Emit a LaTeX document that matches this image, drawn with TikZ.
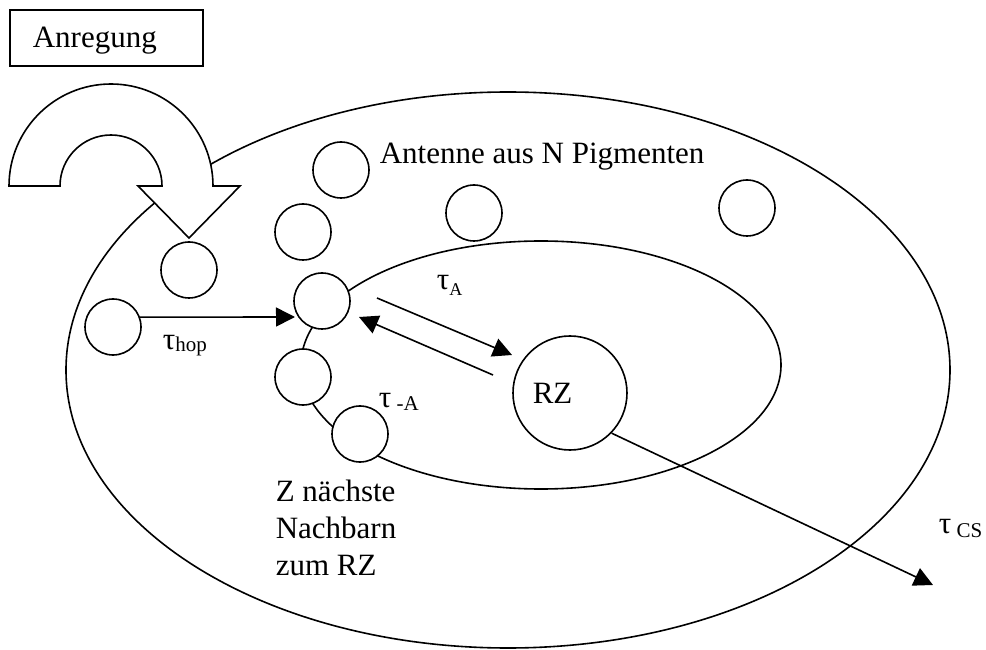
\documentclass[tikz,border=0pt]{standalone}
\usepackage{fontspec}
\setmainfont{Liberation Serif}
\usetikzlibrary{arrows.meta}
\newcommand\sbs[1]{{\fontsize{21}{25}\selectfont #1}}
\begin{document}
\begin{tikzpicture}[x=1pt,y=1pt,line width=1.6pt,
  pig/.style={circle,draw,fill=white,minimum size=56pt,inner sep=0pt},
  arr/.style={-{Triangle[length=19pt,width=19pt]}},
  txt/.style={anchor=base west,inner sep=0pt,font=\fontsize{31}{37}\selectfont}]
\useasboundingbox (0,0) rectangle (986,649);
% ellipses
\draw (508,279) ellipse[x radius=442,y radius=278];
\draw (541,284) ellipse[x radius=240,y radius=124];
% pigments
\node[pig] (c1) at (341,479) {};
\node[pig] (c2) at (303,417) {};
\node[pig] (c3) at (474,436) {};
\node[pig] (c4) at (747,441) {};
\node[pig] (c5) at (189,379) {};
\node[pig] (c6) at (113,322) {};
\node[pig] (c7) at (322,348) {};
\node[pig] (c8) at (303,272) {};
\node[pig] (c9) at (360,215) {};
\node[circle,draw,fill=white,minimum size=114pt,inner sep=0pt] (RZ) at (570,256) {};
% excitation arrow
\draw[fill=white] (60,463) arc[start angle=180,end angle=0,radius=51]
  -- (138,463) -- (189,411) -- (240,463) -- (213,463)
  arc[start angle=0,end angle=180,radius=102] -- cycle;
\node (box) [draw,anchor=north west,minimum width=193pt,minimum height=56pt,inner sep=0pt] at (9,640) {};
\node[txt] (anr) at (32,601) {Anregung};
% transfer arrows
\coordinate (hopend) at (295,332);
\coordinate (aS) at (377,351);
\coordinate (aE) at (512,294);
\coordinate (bS) at (493,274);
\coordinate (bE) at (359,332);
\coordinate (csE) at (933,64);
\draw[arr] (c6.20) -- (hopend);
\draw[arr] (aS) -- (aE);
\draw[arr] (bS) -- (bE);
\draw[arr] (RZ.-44) -- (csE);
% labels
\node[txt] (ant) at (379,485) {Antenne aus N Pigmenten};
\node[txt] (rzt) at (532,245) {RZ};
\node[txt] (thop) at (162,299) {τ\raisebox{-2pt}{\sbs{hop}}};
\node[txt] (tA) at (436,359) {τ\raisebox{-5pt}{\fontsize{18}{20}\selectfont A}};
\node[txt] (tmA) at (378,242) {τ\raisebox{-4pt}{\sbs{\ -A}}};
\node[txt] (tCS) at (938,116) {τ\raisebox{-4pt}{\sbs{\ CS}}};
\node[txt] (z1) at (275,148) {Z nächste};
\node[txt] (z2) at (275,111) {Nachbarn};
\node[txt] (z3) at (275,74) {zum RZ};
\end{tikzpicture}
\end{document}
